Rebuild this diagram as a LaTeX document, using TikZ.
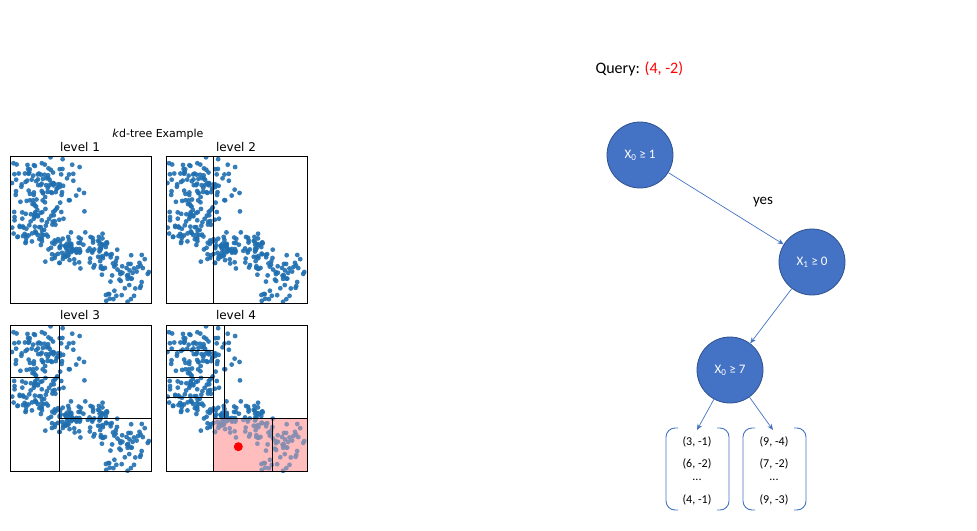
\documentclass[tikz,border=0pt]{standalone}
\usepackage{fontspec}
\usetikzlibrary{arrows.meta}
\setmainfont{Carlito}
\newfontfamily\mpl{DejaVu Sans}
\begin{document}
\begin{tikzpicture}[x=1pt,y=-1pt,
  dot/.style={fill=dotblue,fill opacity=0.9},
  tnode/.style={circle,draw=nodeedge,line width=0.8pt,fill=nodeblue,minimum size=66pt,inner sep=0pt,text=white,font=\fontsize{13}{15}\selectfont},
  edge/.style={draw=nodeblue,line width=0.7pt,-{Stealth[length=6pt,width=5pt]}},
  brk/.style={draw=nodeblue,line width=0.9pt,rounded corners=9pt},
  tup/.style={font=\fontsize{12}{14}\selectfont},
  ptitle/.style={font=\mpl\fontsize{12}{14}\selectfont},
  split/.style={line width=0.7pt}]
\definecolor{dotblue}{HTML}{1F6FB0}
\definecolor{nodeblue}{HTML}{4472C4}
\definecolor{nodeedge}{HTML}{2F528F}
\useasboundingbox (0,0) rectangle (977,530);
\newcommand\kddots[2]{%
 \begin{scope}
 \clip (#1,#2) rectangle ++(141,147);
 \pgfmathsetseed{42}
 \foreach \cx/\cy/\sx/\sy/\n in {0.25/0.19/0.34/0.26/100,0.2/0.47/0.3/0.27/80,0.38/0.63/0.22/0.18/55,0.6/0.63/0.24/0.2/50,0.8/0.83/0.24/0.25/60}{
   \foreach \i in {1,...,\n}{
     \pgfmathsetmacro\px{#1+141*(\cx+\sx*(rand+rand+rand)/3)}
     \pgfmathsetmacro\py{#2+147*(\cy+\sy*(rand+rand+rand)/3)}
     \fill[dot] (\px,\py) circle (2.4);
   }}
 \end{scope}}
% titles
\node[ptitle,font=\mpl\fontsize{11}{13}\selectfont] (ttl) at (158,134) {\textit{k}d-tree Example};
\node[ptitle] (t1) at (80,147) {level 1};
\node[ptitle] (t2) at (236,147) {level 2};
\node[ptitle] (t3) at (80,315) {level 3};
\node[ptitle] (t4) at (236,315) {level 4};
% level 4 pink region
\fill[red!22] (213,418) rectangle (307,471);
\kddots{10.5}{156}
\kddots{166}{156}
\kddots{10.5}{325}
\kddots{166}{325}
\fill[red!30,opacity=0.45] (213,418) rectangle (307,471);
\fill[red] (238.3,446.7) circle (4.5);
% boxes
\draw[split] (10.5,156) rectangle (151.5,303);
\draw[split] (166,156) rectangle (307,303);
\draw[split] (10.5,325) rectangle (151.5,471);
\draw[split] (166,325) rectangle (307,471);
% level 2
\draw[split] (213.3,156) -- (213.3,303);
% level 3
\draw[split] (59.3,325) -- (59.3,471);
\draw[split] (10.5,377.3) -- (59.3,377.3);
\draw[split] (59.3,418.3) -- (151.5,418.3);
% level 4
\draw[split] (213.3,325) -- (213.3,471);
\draw[split] (224.3,325) -- (224.3,418.3);
\draw[split] (166,350) -- (213.3,350);
\draw[split] (166,377.3) -- (213.3,377.3);
\draw[split] (166,397.7) -- (213.3,397.7);
\draw[split] (213.3,418.3) -- (307,418.3);
\draw[split] (272.7,418.3) -- (272.7,471);
% right
\node[font=\fontsize{16}{19}\selectfont,anchor=west] (q) at (592,69) {Query: \textcolor{red}{(4, -2)}};
\node[tnode] (n1) at (640,155) {X\textsubscript{0} ≥ 1};
\node[tnode] (n2) at (812,262) {X\textsubscript{1} ≥ 0};
\node[tnode] (n3) at (730,370) {X\textsubscript{0} ≥ 7};
\draw[edge] (n1) -- (n2);
\node[font=\fontsize{15}{18}\selectfont] (yes) at (763,202) {yes};
\draw[edge] (n2) -- (n3);
\coordinate (a1) at (697,430);
\coordinate (a2) at (773,430);
\draw[edge] (n3) -- (a1);
\draw[edge] (n3) -- (a2);
\draw[brk] (678,428) -- (666,428) -- (666,510) -- (678,510);
\draw[brk] (717,428) -- (729,428) -- (729,510) -- (717,510);
\draw[brk] (755,428) -- (743,428) -- (743,510) -- (755,510);
\draw[brk] (794,428) -- (806,428) -- (806,510) -- (794,510);
\node[tup] (l1) at (697,442) {(3, -1)};
\node[tup] (l2) at (697,464) {(6, -2)};
\node[tup] (l3) at (697,480) {...};
\node[tup] (l4) at (697,500) {(4, -1)};
\node[tup] (r1) at (774,442) {(9, -4)};
\node[tup] (r2) at (774,464) {(7, -2)};
\node[tup] (r3) at (774,480) {...};
\node[tup] (r4) at (774,500) {(9, -3)};
\end{tikzpicture}
\end{document}
